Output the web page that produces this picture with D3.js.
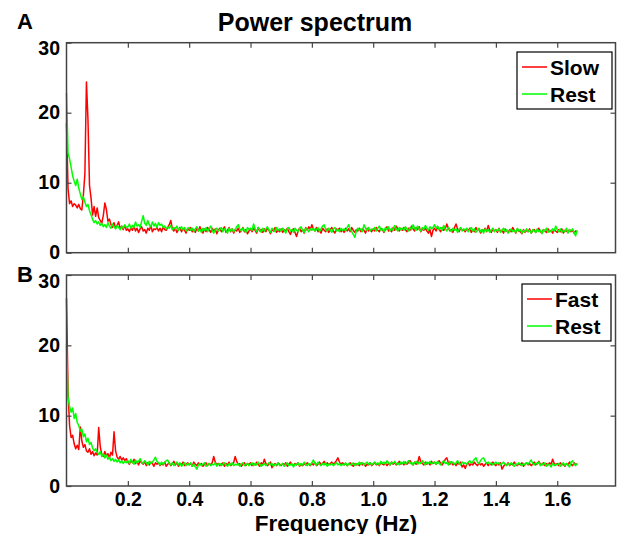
<!DOCTYPE html>
<meta charset="utf-8">
<title>Power spectrum</title>
<style>
body { margin: 0; background: #fff; }
svg { font-family: "Liberation Sans", Arial, sans-serif; font-weight: bold; }
</style>
<svg width="618" height="534"></svg>
<script src="https://d3js.org/d3.v7.min.js"></script>
<script>

// frequency resolution of the spectra (Hz per sample)
var step = 0.005;

var xTicks = [0.2, 0.4, 0.6, 0.8, 1.0, 1.2, 1.4, 1.6];
var yTicks = [0, 10, 20, 30];

// panel A
var slowA = [
  18.5, 9.2, 7.0, 7.4, 6.6, 7.0, 6.8, 6.4, 6.9, 6.3, 6.1, 8.2, 11.3, 24.4, 19.0, 9.6, 7.8, 5.4, 6.6, 5.2,
  6.4, 5.0, 4.6, 4.2, 5.3, 7.1, 6.2, 4.5, 4.8, 4.0, 3.6, 4.3, 3.5, 3.9, 4.4, 3.4, 3.8, 3.3, 3.9, 3.2,
  3.4, 3.0, 3.6, 3.2, 3.8, 3.1, 3.5, 2.9, 3.4, 3.7, 3.1, 3.3, 2.8, 3.5, 3.2, 3.9, 3.0, 3.4, 3.3, 3.6,
  3.1, 3.5, 3.0, 3.7, 3.3, 3.2, 3.6, 4.0, 4.6, 3.4, 3.1, 3.5, 2.9, 3.3, 3.6, 3.0, 3.4, 3.2, 2.8, 3.5,
  3.2, 3.6, 3.0, 3.3, 2.9, 3.5, 3.1, 3.7, 3.2, 2.8, 3.4, 3.0, 3.6, 3.3, 2.9, 3.5, 3.1, 3.4, 2.7, 3.2,
  3.5, 3.0, 3.3, 3.7, 2.9, 3.2, 3.6, 3.0, 3.4, 2.8, 3.3, 3.1, 3.5, 2.9, 3.2, 3.6, 3.0, 3.3, 2.7, 3.1,
  3.4, 3.0, 3.5, 3.2, 2.8, 3.6, 3.1, 3.3, 2.9, 3.4, 3.0, 3.5, 3.2, 2.7, 3.3, 3.1, 3.6, 2.9, 3.2, 3.0,
  3.4, 2.9, 3.3, 3.1, 3.5, 3.0, 2.6, 3.2, 3.4, 2.9, 2.3, 3.1, 3.5, 3.0, 3.3, 2.8, 3.6, 3.2, 3.7, 3.3,
  4.0, 3.4, 3.1, 3.6, 3.0, 3.3, 2.8, 3.5, 3.2, 3.0, 3.4, 2.9, 3.3, 3.6, 3.1, 2.8, 3.4, 3.2, 3.5, 3.0,
  3.3, 2.9, 3.5, 3.1, 3.4, 3.0, 3.6, 3.2, 2.9, 3.3, 3.1, 3.5, 3.0, 3.4, 3.2, 2.8, 3.5, 3.1, 3.3, 3.0,
  3.4, 3.1, 3.6, 3.2, 3.0, 3.5, 3.3, 2.9, 3.4, 3.7, 3.1, 3.3, 3.0, 3.6, 3.2, 3.8, 3.4, 3.1, 3.5, 3.2,
  3.6, 3.3, 3.0, 3.5, 3.2, 3.8, 3.4, 3.1, 3.6, 3.3, 3.7, 3.0, 3.4, 3.2, 3.5, 3.1, 2.8, 3.3, 2.3, 3.2,
  3.5, 3.1, 3.7, 3.3, 3.0, 3.6, 3.2, 3.4, 4.1, 3.5, 3.1, 3.3, 2.9, 3.6, 4.1, 3.4, 3.0, 3.5, 3.2, 3.3,
  3.0, 3.4, 3.1, 3.5, 2.9, 3.3, 3.0, 3.6, 3.2, 3.4, 2.8, 3.3, 3.1, 3.5, 3.0, 3.9, 3.2, 2.9, 3.4, 3.1,
  3.3, 2.9, 3.5, 3.0, 3.2, 2.8, 3.4, 3.1, 2.9, 3.3, 3.0, 3.6, 3.2, 2.8, 3.4, 3.1, 3.0, 2.7, 3.3, 2.9,
  3.2, 3.0, 3.4, 2.8, 3.1, 3.3, 2.9, 3.2, 3.5, 3.0, 2.8, 3.3, 3.1, 2.9, 3.4, 3.0, 3.2, 2.8, 3.3, 3.1,
  2.9, 3.3, 3.0, 3.4, 2.8, 3.2, 3.1, 2.9, 3.3, 3.0, 3.2, 2.8, 3.1, 3.0
];
var restA = [
  22.8, 14.2, 13.4, 12.2, 11.0, 10.2, 9.6, 10.5, 9.2, 8.4, 7.6, 8.0, 7.2, 6.6, 6.9, 6.0, 5.4, 4.8, 4.3, 4.6,
  4.1, 4.4, 3.9, 4.2, 3.7, 4.0, 3.6, 4.3, 3.8, 3.5, 4.1, 3.7, 3.4, 3.9, 3.6, 3.3, 3.8, 3.5, 4.0, 3.6,
  3.7, 4.1, 3.5, 3.9, 3.6, 4.4, 3.8, 4.0, 3.6, 4.5, 5.3, 4.2, 3.9, 4.6, 4.0, 3.7, 4.4, 3.8, 4.2, 3.6,
  4.3, 3.9, 4.1, 3.6, 3.8, 3.4, 3.7, 3.5, 3.9, 3.3, 3.6, 3.4, 3.8, 3.2, 3.5, 3.7, 3.3, 3.6, 3.1, 3.4,
  3.6, 3.2, 3.5, 3.0, 3.4, 3.7, 3.1, 3.3, 2.9, 3.5, 3.2, 3.6, 3.0, 3.4, 3.8, 3.2, 2.8, 3.3, 3.5, 3.1,
  3.3, 3.6, 3.0, 3.4, 3.2, 2.8, 3.5, 3.1, 3.4, 3.0, 3.3, 3.7, 4.0, 3.4, 3.1, 3.5, 3.2, 2.9, 3.6, 3.3,
  3.5, 3.2, 4.1, 3.4, 3.0, 3.6, 3.3, 2.9, 3.5, 3.1, 3.4, 3.7, 3.2, 2.9, 3.5, 3.3, 3.0, 3.6, 3.2, 3.4,
  3.1, 3.5, 3.2, 2.8, 3.4, 3.6, 3.1, 3.3, 2.9, 3.5, 3.2, 3.0, 3.4, 3.7, 3.2, 2.9, 3.5, 3.3, 3.0, 3.4,
  3.2, 3.5, 3.1, 3.3, 3.6, 3.0, 3.4, 3.8, 4.0, 3.3, 3.1, 3.5, 3.2, 2.9, 3.4, 3.6, 3.1, 3.3, 3.0, 3.5,
  3.2, 3.4, 3.1, 3.6, 4.0, 3.3, 3.0, 2.6, 2.2, 3.1, 3.5, 3.2, 3.4, 3.0, 4.0, 3.5, 3.2, 3.6, 3.1, 3.4,
  3.3, 3.6, 3.1, 3.5, 3.8, 3.2, 3.4, 3.0, 3.6, 3.3, 3.7, 3.1, 3.5, 3.2, 3.9, 3.4, 3.1, 3.6, 3.3, 3.5,
  3.2, 3.7, 3.4, 3.1, 3.6, 3.3, 4.0, 3.5, 3.2, 3.8, 3.4, 3.1, 3.6, 3.3, 3.9, 3.5, 3.2, 3.7, 3.4, 3.6,
  4.0, 3.5, 3.8, 3.3, 3.6, 3.2, 3.9, 3.4, 3.1, 3.6, 3.3, 3.0, 3.5, 3.2, 3.4, 2.9, 3.3, 3.6, 3.1, 3.4,
  3.2, 3.5, 3.0, 3.3, 3.6, 3.1, 3.4, 2.9, 3.2, 3.5, 3.0, 3.3, 2.8, 3.4, 3.1, 3.3, 2.9, 3.2, 3.5, 3.0,
  3.3, 3.1, 3.4, 2.9, 3.2, 3.5, 3.0, 3.3, 2.8, 3.1, 3.4, 3.0, 3.2, 2.9, 3.5, 3.1, 3.3, 2.8, 3.2, 3.0,
  3.4, 3.0, 3.2, 2.8, 3.3, 3.1, 2.9, 3.4, 3.0, 3.2, 2.7, 3.3, 3.1, 3.5, 2.9, 3.2, 3.0, 3.4, 3.1, 3.8,
  3.3, 3.0, 3.4, 2.9, 3.2, 3.0, 3.5, 2.8, 3.3, 3.1, 3.4, 2.9, 2.4, 3.2
];

// panel B
var fastB = [
  26.7, 13.5, 8.6, 6.9, 7.2, 6.0, 5.3, 5.8, 5.2, 8.4, 6.4, 5.5, 5.9, 5.0, 4.8, 5.3, 4.5, 4.9, 4.3, 4.7,
  4.4, 8.3, 5.6, 4.5, 4.2, 4.9, 4.3, 4.6, 4.0, 4.8, 4.4, 7.7, 5.0, 4.1, 3.8, 4.2, 3.7, 4.0, 3.6, 3.9,
  3.4, 3.1, 3.6, 3.3, 3.8, 3.2, 3.5, 3.0, 3.6, 3.3, 3.1, 3.5, 2.9, 3.3, 3.0, 3.4, 3.2, 2.8, 3.3, 3.1,
  3.3, 2.9, 3.2, 3.0, 3.4, 2.8, 3.1, 3.3, 2.9, 3.2, 3.5, 3.0, 3.3, 2.8, 3.2, 3.0, 3.4, 2.9, 3.1, 3.3,
  3.0, 3.2, 2.8, 3.4, 3.1, 2.9, 3.3, 3.0, 3.2, 2.8, 3.1, 3.3, 2.9, 3.2, 3.0, 3.3, 4.2, 3.4, 3.0, 3.2,
  2.9, 3.1, 3.3, 2.8, 3.2, 3.0, 3.4, 2.9, 3.1, 3.3, 4.2, 3.5, 3.0, 3.2, 2.8, 3.1, 3.3, 2.9, 3.2, 3.0,
  3.3, 2.9, 3.2, 3.0, 3.4, 3.1, 2.8, 3.3, 3.0, 3.8, 3.2, 2.9, 3.1, 3.4, 2.6, 3.0, 3.2, 2.9, 3.3, 3.1,
  2.9, 3.2, 3.0, 3.3, 2.8, 3.1, 3.4, 3.0, 2.9, 3.2, 3.0, 3.3, 2.8, 3.1, 2.9, 3.2, 3.0, 3.3, 3.1, 2.9,
  3.2, 3.0, 3.3, 2.9, 3.1, 3.4, 3.0, 3.2, 3.5, 3.1, 3.3, 3.0, 3.2, 3.4, 3.1, 3.3, 3.6, 4.0, 3.4, 3.1,
  3.3, 3.0, 3.2, 2.9, 3.1, 3.3, 3.0, 2.8, 3.2, 3.0, 3.1, 2.9, 3.3, 3.0, 3.2, 2.8, 3.1, 3.0, 3.3, 2.9,
  3.1, 3.3, 3.0, 3.2, 2.9, 3.4, 3.1, 3.0, 3.3, 2.9, 3.2, 3.0, 3.4, 3.1, 3.3, 3.0, 3.2, 3.5, 3.1, 3.3,
  3.0, 3.4, 3.1, 3.3, 3.6, 3.2, 3.0, 3.4, 3.1, 3.3, 4.2, 3.5, 3.2, 3.0, 3.4, 3.1, 3.3, 3.0, 3.5, 3.2,
  3.4, 3.1, 3.3, 3.6, 3.2, 3.0, 3.4, 3.8, 4.0, 3.3, 3.1, 3.4, 3.0, 3.2, 2.9, 3.3, 3.1, 3.4, 2.7, 3.0,
  2.5, 3.1, 3.3, 2.9, 3.2, 3.0, 3.4, 3.1, 2.9, 3.3, 3.0, 3.2, 2.8, 3.1, 3.3, 2.9, 3.2, 3.0, 3.4, 3.1,
  2.9, 3.2, 3.0, 3.3, 2.4, 2.8, 3.1, 3.0, 3.3, 2.9, 3.2, 3.0, 3.4, 3.1, 2.9, 3.2, 3.0, 3.3, 2.8, 3.1,
  3.3, 3.0, 3.2, 2.9, 3.1, 3.4, 3.0, 3.2, 3.5, 3.1, 3.0, 3.3, 2.9, 3.2, 3.0, 3.3, 3.1, 3.8, 3.2, 3.0,
  3.2, 2.9, 3.3, 3.0, 3.1, 2.8, 3.2, 3.0, 3.4, 3.1, 2.9, 3.3, 3.0, 3.2
];
var restB = [
  20.0, 12.6, 11.3, 10.5, 11.1, 9.6, 10.3, 9.0, 8.6, 7.8, 8.1, 7.0, 7.4, 6.3, 6.8, 5.9, 6.2, 5.4, 5.0, 5.3,
  4.8, 4.5, 4.9, 4.2, 4.6, 4.0, 4.4, 3.8, 4.1, 3.6, 3.9, 3.5, 3.8, 3.4, 3.7, 3.3, 3.6, 3.2, 3.5, 3.3,
  3.6, 3.2, 3.8, 3.4, 3.1, 3.7, 3.3, 3.5, 3.9, 3.4, 3.2, 3.6, 3.3, 3.0, 3.5, 3.2, 3.4, 3.7, 4.1, 3.5,
  3.3, 3.0, 3.4, 3.1, 3.3, 3.6, 3.7, 3.2, 3.0, 3.3, 2.9, 3.2, 3.4, 3.0, 3.3, 2.8, 3.1, 3.3, 2.9, 3.2,
  3.0, 3.3, 2.8, 3.1, 2.7, 2.4, 3.0, 3.2, 2.9, 3.1, 3.3, 2.8, 3.0, 3.2, 2.9, 3.1, 3.0, 3.3, 2.8, 3.1,
  3.2, 2.9, 3.1, 3.3, 3.0, 2.8, 3.2, 3.0, 3.3, 2.9, 3.1, 3.0, 3.2, 2.8, 3.1, 3.3, 2.9, 3.0, 3.2, 2.9,
  3.1, 3.3, 2.9, 3.2, 3.0, 3.4, 3.1, 2.8, 3.0, 3.2, 2.9, 3.1, 3.3, 3.0, 3.2, 2.8, 3.1, 3.0, 3.3, 2.9,
  3.0, 3.2, 2.8, 3.1, 3.3, 2.9, 3.0, 3.2, 2.7, 3.1, 3.0, 3.3, 2.9, 3.2, 3.0, 3.4, 3.1, 2.9, 3.2, 3.0,
  3.3, 3.7, 3.2, 3.0, 3.4, 3.1, 2.9, 3.2, 3.0, 3.3, 2.8, 3.1, 3.0, 3.2, 2.9, 3.1, 3.3, 3.0, 3.2, 2.9,
  3.1, 3.0, 3.3, 2.9, 3.2, 3.0, 3.1, 3.3, 2.9, 3.2, 3.0, 3.4, 3.1, 3.3, 3.0, 3.2, 3.4, 3.1, 3.3, 3.0,
  3.2, 3.4, 3.1, 3.3, 3.0, 3.5, 3.2, 3.4, 3.1, 3.6, 3.3, 3.0, 3.4, 3.2, 3.5, 3.1, 3.3, 3.0, 3.4, 3.2,
  3.5, 3.1, 3.3, 3.6, 3.2, 3.4, 3.0, 3.3, 3.5, 3.1, 3.4, 3.2, 3.6, 3.3, 3.0, 3.4, 3.2, 3.5, 3.1, 3.3,
  3.4, 3.1, 3.5, 3.2, 3.0, 3.4, 3.6, 3.2, 3.3, 3.0, 3.5, 3.2, 3.4, 3.1, 3.3, 3.6, 3.2, 3.0, 3.4, 3.2,
  3.3, 3.1, 3.4, 3.6, 3.2, 3.5, 3.8, 4.0, 3.4, 3.2, 3.6, 3.9, 4.0, 3.5, 3.2, 3.4, 3.1, 3.3, 3.0, 3.2,
  3.4, 3.1, 3.3, 3.0, 3.2, 3.4, 3.1, 2.9, 3.2, 3.0, 3.3, 3.1, 2.8, 3.2, 3.0, 3.3, 3.1, 2.9, 3.2, 3.0,
  3.3, 3.1, 3.4, 3.7, 3.2, 3.0, 3.3, 3.1, 3.4, 2.9, 3.2, 3.0, 3.3, 2.8, 3.1, 3.0, 2.7, 3.2, 2.9, 3.1,
  3.0, 3.2, 2.8, 3.1, 3.3, 2.9, 3.2, 3.0, 2.7, 3.4, 3.6, 3.1, 2.9, 3.2
];

var svg = d3.select("svg");
var left = 66.5, right = 615.5;
var axisColor = "#444";

var x = d3.scaleLinear().domain([0, 1.79]).range([left, right]);

var line = function(y) {
  return d3.line()
    .x(function(d, i) { return x(i * step); })
    .y(function(d) { return y(d); });
};

function panel(top, bottom, series, names, legendBox, letter, showLabels) {
  var y = d3.scaleLinear().domain([0, 30]).range([bottom, top]);
  var g = svg.append("g");

  var colors = ["#ff0000", "#00ff00"];
  series.forEach(function(s, k) {
    g.append("path")
      .attr("d", line(y)(s))
      .attr("fill", "none")
      .attr("stroke", colors[k])
      .attr("stroke-width", 1.5)
      .attr("stroke-linejoin", "round");
  });

  // box
  g.append("rect")
    .attr("x", left).attr("y", top)
    .attr("width", right - left).attr("height", bottom - top)
    .attr("fill", "none").attr("stroke", axisColor).attr("stroke-width", 1.5);

  // bottom axis
  var xb = g.append("g")
    .attr("transform", "translate(0," + bottom + ")")
    .call(d3.axisBottom(x).tickValues(xTicks).tickSize(-5).tickSizeOuter(0).tickPadding(6.5)
      .tickFormat(showLabels ? d3.format(".1f") : ""));
  // top axis
  var xt = g.append("g")
    .attr("transform", "translate(0," + top + ")")
    .call(d3.axisTop(x).tickValues(xTicks).tickSize(-5).tickSizeOuter(0).tickFormat(""));
  // left axis
  var yl = g.append("g")
    .attr("transform", "translate(" + left + ",0)")
    .call(d3.axisLeft(y).tickValues(yTicks).tickSize(-5).tickSizeOuter(0).tickPadding(6.5));
  // right axis
  var yr = g.append("g")
    .attr("transform", "translate(" + right + ",0)")
    .call(d3.axisRight(y).tickValues(yTicks.slice(1, 3)).tickSize(-5).tickSizeOuter(0).tickFormat(""));

  [xb, xt, yl, yr].forEach(function(a) {
    a.select(".domain").remove();
    a.selectAll(".tick line").attr("stroke", axisColor).attr("stroke-width", 1.2);
    a.selectAll("text").attr("fill", "#000").style("font-size", "19.5px")
      .style("font-family", "'Liberation Sans', Arial, sans-serif").style("font-weight", "bold");
  });
  // top label sits a little lower, as in the original
  yl.selectAll(".tick").filter(function(d) { return d === 30; }).select("text").attr("y", 6);

  // panel letter
  svg.append("text").attr("x", 17).attr("y", letter.y)
    .style("font-size", "22px").text(letter.t);

  // legend
  var lg = svg.append("g");
  lg.append("rect")
    .attr("x", legendBox[0]).attr("y", legendBox[1])
    .attr("width", legendBox[2]).attr("height", legendBox[3])
    .attr("fill", "#fff").attr("stroke", "#000").attr("stroke-width", 1.2);
  names.forEach(function(n, k) {
    var ly = legendBox[1] + 15 + k * 27;
    lg.append("line")
      .attr("x1", legendBox[0] + 5).attr("x2", legendBox[0] + 30)
      .attr("y1", ly).attr("y2", ly)
      .attr("stroke", colors[k]).attr("stroke-width", 1.5);
    lg.append("text")
      .attr("x", legendBox[0] + 33).attr("y", ly + 7.5)
      .style("font-size", "21px").text(n);
  });
}

panel(42.7, 252.7, [slowA, restA], ["Slow", "Rest"], [517, 52, 95, 57], {t: "A", y: 28.5}, false);
panel(275, 486, [fastB, restB], ["Fast", "Rest"], [522, 284, 89, 57], {t: "B", y: 282}, true);

svg.append("text")
  .attr("x", 315).attr("y", 31)
  .attr("text-anchor", "middle")
  .style("font-size", "25px")
  .text("Power spectrum");

svg.append("text")
  .attr("x", 336).attr("y", 530.5)
  .attr("text-anchor", "middle")
  .style("font-size", "22.5px")
  .text("Frequency (Hz)");

</script>
